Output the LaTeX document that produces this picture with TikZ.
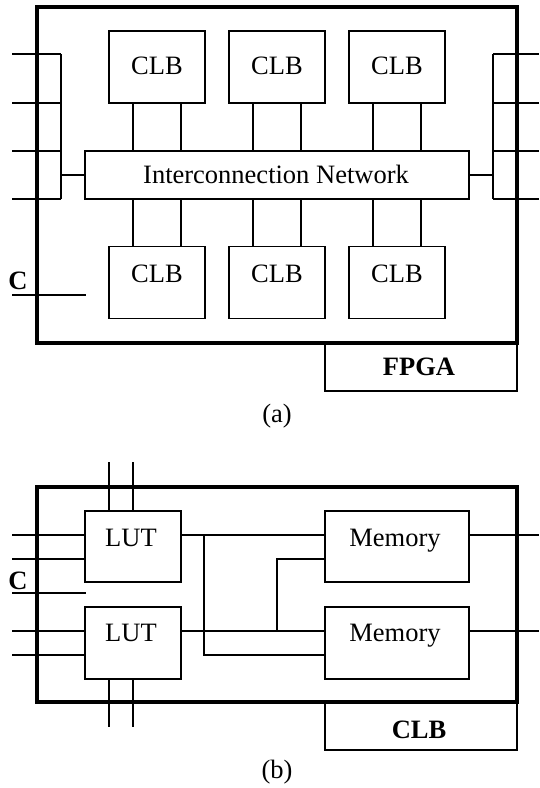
\documentclass[tikz,border=0pt]{standalone}
\usepackage{fontspec}
\setmainfont{Liberation Serif}
\usetikzlibrary{calc}
\begin{document}
\begin{tikzpicture}[x=1pt,y=-1pt,
  wire/.style={line width=1.4pt},
  box/.style={draw, line width=1.4pt, inner sep=0pt, outer sep=0pt},
  chip/.style={draw, line width=3.6pt, inner sep=0pt, outer sep=0pt},
  cell/.style={box, minimum width=96pt, minimum height=72pt},
  mem/.style={box, minimum width=144pt, minimum height=72pt},
  tag/.style={box, minimum width=192pt, minimum height=48pt},
  txt/.style={anchor=base, inner sep=0pt, font=\fontsize{26.5}{31}\selectfont},
  btxt/.style={txt, font=\fontsize{26.5}{31}\selectfont\bfseries}]
\useasboundingbox (0,0) rectangle (539,788);

% ---------------- (a) FPGA ----------------
\node[tag] (fpgaTag) at (421,367) {};
\node[chip, minimum width=480pt, minimum height=336pt] (chipA) at (277,175) {};
\node[btxt] (fpgaLbl) at (419,375) {FPGA};

\node[box, minimum width=384pt, minimum height=48pt] (net) at (277,175) {};
\node[txt] (netLbl) at (276,183) {Interconnection Network};

\foreach \n/\x in {1/157,2/277,3/397} {
  \node[cell] (t\n) at (\x,67) {};
  \node[txt] (t\n l) at (\x,74) {CLB};
  \node[cell] (b\n) at (\x,282.5) {};
  \node[txt] (b\n l) at (\x,282) {CLB};
  \draw[wire] ([xshift=-24pt]t\n.south) -- ([xshift=-24pt]t\n.south |- net.north);
  \draw[wire] ([xshift=24pt]t\n.south) -- ([xshift=24pt]t\n.south |- net.north);
  \draw[wire] ([xshift=-24pt]b\n.north) -- ([xshift=-24pt]b\n.north |- net.south);
  \draw[wire] ([xshift=24pt]b\n.north) -- ([xshift=24pt]b\n.north |- net.south);
}

% side buses
\coordinate (busLa) at (61,54);
\coordinate (busLb) at (61,199);
\coordinate (busRa) at (493,54);
\coordinate (busRb) at (493,199);
\foreach \n/\y in {1/54,2/103,3/151,4/199} {
  \coordinate (inL\n) at (12,\y);
  \coordinate (outR\n) at (539,\y);
  \draw[wire] (inL\n) -- (inL\n -| busLa);
  \draw[wire] (outR\n -| busRa) -- (outR\n);
}
\draw[wire] (busLa) -- (busLb);
\draw[wire] (busRa) -- (busRb);
\draw[wire] (net.west) -- (net.west -| busLa);
\draw[wire] (net.east) -- (net.east -| busRa);

% clock input
\coordinate (cA) at (12,295);
\coordinate (cAend) at (86,295);
\draw[wire] (cA) -- (cAend);
\node[btxt] (cAlbl) at (18,289) {C};

\node[txt] (capA) at (277,422) {(a)};

% ---------------- (b) CLB ----------------
\node[tag] (clbTag) at (421,726) {};
\node[chip, minimum width=480pt, minimum height=215pt] (chipB) at (277,594.5) {};
\node[btxt] (clbLbl) at (419,738) {CLB};

\node[cell, minimum height=71pt] (lut1) at (133,546.5) {};
\node[txt] (lut1l) at (131,546) {LUT};
\node[cell] (lut2) at (133,643) {};
\node[txt] (lut2l) at (131,641) {LUT};
\node[mem, minimum height=71pt] (mem1) at (397,546.5) {};
\node[txt] (mem1l) at (395,546) {Memory};
\node[mem] (mem2) at (397,643) {};
\node[txt] (mem2l) at (395,641) {Memory};

% routing pins above and below the LUTs
\coordinate (pinT1) at (109,462);
\coordinate (pinT2) at (133,462);
\coordinate (pinB1) at (109,727);
\coordinate (pinB2) at (133,727);
\draw[wire] (pinT1) -- (pinT1 |- lut1.north);
\draw[wire] (pinT2) -- (pinT2 |- lut1.north);
\draw[wire] (pinB1 |- lut2.south) -- (pinB1);
\draw[wire] (pinB2 |- lut2.south) -- (pinB2);

% LUT inputs
\foreach \n/\y in {1/535,2/559,3/631,4/655} \coordinate (inB\n) at (12,\y);
\draw[wire] (inB1) -- (inB1 -| lut1.west);
\draw[wire] (inB2) -- (inB2 -| lut1.west);
\draw[wire] (inB3) -- (inB3 -| lut2.west);
\draw[wire] (inB4) -- (inB4 -| lut2.west);

% clock input
\coordinate (cB) at (12,593);
\coordinate (cBend) at (86,593);
\draw[wire] (cB) -- (cBend);
\node[btxt] (cBlbl) at (18,589) {C};

% LUT to memory routing
\coordinate (jA) at (204,535);
\coordinate (jB) at (277,559);
\draw[wire] (lut1.east |- inB1) -- (mem1.west |- inB1);
\draw[wire] (jA) -- (jA |- inB4) -- (mem2.west |- inB4);
\draw[wire] (lut2.east |- inB3) -- (mem2.west |- inB3);
\draw[wire] (mem1.west |- inB2) -- (jB) -- (jB |- inB3);

% memory outputs
\coordinate (outB1) at (539,535);
\coordinate (outB2) at (539,631);
\draw[wire] (mem1.east |- outB1) -- (outB1);
\draw[wire] (mem2.east |- outB2) -- (outB2);

\node[txt] (capB) at (277,778) {(b)};
\end{tikzpicture}
\end{document}
